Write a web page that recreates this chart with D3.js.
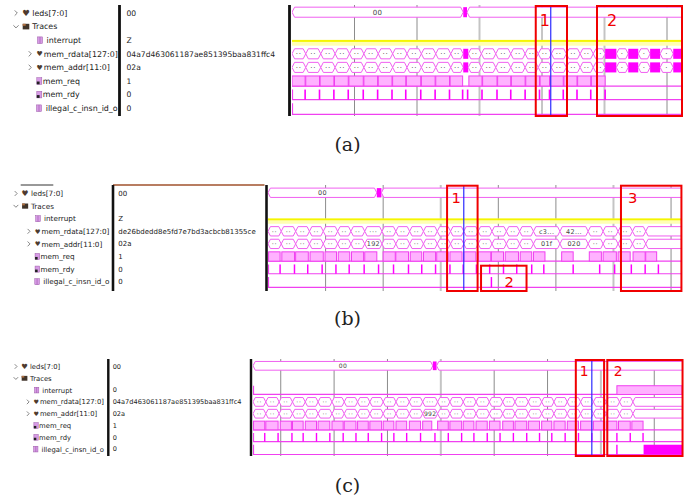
<!DOCTYPE html>
<html>
<head>
<meta charset="utf-8">
<script src="https://cdn.jsdelivr.net/npm/d3@7"></script>
<style>
  body { margin: 0; background: #fff; }
  svg { display: block; }
</style>
</head>
<body>
<div id="chart"></div>
<script>
// Signal list (same in all three captures)
const rowNames = ["leds[7:0]", "Traces", "interrupt", "mem_rdata[127:0]", "mem_addr[11:0]", "mem_req", "mem_rdy", "illegal_c_insn_id_o"];
const rowKinds = ["bus", "group", "wire", "bus", "bus", "reg", "reg", "wire"];

// Value column per capture
const aValues = ["00", "", "Z", "04a7d463061187ae851395baa831ffc4", "02a", "1", "0", "0"];
const bValues = ["00", "", "Z", "de26bdedd8e5fd7e7bd3acbcb81355ce", "02a", "1", "0", "0"];
const cValues = ["00", "", "0", "04a7d463061187ae851395baa831ffc4", "02a", "1", "0", "0"];

// ---- capture (a) ----
const aDomain = [0, 624];
const aGrid = [100, 200, 300, 400, 500, 600];
const aGridLight = [300, 500];
const aLedsEdges = [0, 274, 280, 624];
const aLedsLabels = ["00", "*", ""];
const aBusEdges = [0, 22, 46, 69, 92, 115, 138, 161, 184, 207, 230, 254, 274, 282, 303, 326, 350, 373, 394, 415, 439, 461, 482, 501, 519, 538, 554, 573, 589, 610, 624];
const aRdataLabels = ["··", "··", "··", "··", "··", "··", "··", "··", "··", "··", "··", "··", "*",
  "··", "··", "··", "··", "··", "··", "··", "··", "··", "··", "*", "·", "*", "·", "*", "·", "*"];
const aAddrLabels = aRdataLabels;
const aReqHigh = [[0, 21], [22, 44], [45, 67], [68, 90], [91, 114], [115, 137], [138, 160], [161, 182], [183, 206], [207, 229], [230, 252], [253, 273],
  [283, 304], [305, 328], [329, 350], [351, 373], [374, 396], [397, 412], [413, 434], [435, 456], [457, 478], [479, 501]];
const aRdyPulses = [21, 44, 67, 90, 114, 137, 160, 182, 206, 229, 252, 273, 281, 304, 328, 350, 373, 396, 412, 434, 456, 478, 501];
const aCursor = 414;
const aBoxStart = [390, 488];
const aBoxEnd = [440, 624];
const aBoxLabels = ["1", "2"];

// ---- capture (b) ----
const bDomain = [0, 719];
const bGrid = [100, 200, 300, 400, 500, 600, 700];
const bGridLight = [300, 600];
const bLedsEdges = [0, 189, 197, 719];
const bLedsLabels = ["00", "*", ""];
const bBusEdges = [0, 23, 48, 72, 96, 121, 144, 168, 198, 222, 246, 270, 294, 317, 340, 365, 389, 414, 437, 461, 507, 556, 582, 608, 633, 656, 719];
const bRdataLabels = ["··", "··", "··", "··", "··", "··", "··", "···", "··", "··", "··", "··", "··", "··", "··", "··", "··", "··", "··",
  "c3...", "42...", "··", "··", "··", "··", ""];
const bAddrLabels = ["··", "··", "··", "··", "··", "··", "··", "192", "··", "··", "··", "··", "··", "··", "··", "··", "··", "··", "··",
  "01f", "020", "··", "··", "··", "··", ""];
const bReqHigh = [[1, 21], [24, 46], [48, 70], [73, 96], [99, 119], [122, 142], [145, 166], [168, 189], [200, 221], [222, 244], [247, 267], [270, 291],
  [293, 313], [316, 337], [340, 361], [365, 387], [388, 409], [412, 435], [438, 458], [461, 481], [510, 530], [558, 579], [582, 605], [608, 629], [634, 655], [656, 675]];
const bRdyPulses = [21, 46, 69, 94, 118, 141, 167, 192, 218, 244, 267, 291, 316, 339, 362, 385, 409, 432, 458, 479, 530, 576, 602, 631, 655, 678];
const bIllegalPulses = [388];
const bCursor = 340;
const bBoxStart = [311, 370, 613];
const bBoxEnd = [364, 449, 718];
const bBoxLabels = ["1", "2", "3"];

// ---- capture (c) ----
const cDomain = [48, 852];
const cGrid = [100, 200, 300, 400, 500, 600, 700, 800];
const cGridLight = [400, 700];
const cLedsEdges = [48, 385, 392, 852];
const cLedsLabels = ["00", "*", ""];
const cBusEdges = [48, 72, 97, 122, 146, 170, 196, 219, 244, 267, 292, 316, 341, 366, 394, 417, 442, 466, 491, 516, 539, 564, 589, 612, 637, 662, 686, 710, 735, 760, 852];
const cRdataLabels = ["··", "··", "··", "··", "··", "··", "··", "··", "··", "··", "··", "··", "··", "···",
  "··", "··", "··", "··", "··", "··", "··", "··", "··", "··", "··", "··", "··", "··", "··", ""];
const cAddrLabels = ["··", "··", "··", "··", "··", "··", "··", "··", "··", "··", "··", "··", "··", "992",
  "··", "··", "··", "··", "··", "··", "··", "··", "··", "··", "··", "··", "··", "··", "··", ""];
const cReqHigh = [[49, 70], [72, 95], [99, 120], [122, 142], [146, 167], [170, 192], [196, 217], [219, 241], [244, 264], [267, 289], [292, 312], [316, 336],
  [341, 362], [366, 383], [394, 414], [417, 439], [442, 462], [466, 487], [491, 511], [516, 536], [539, 561], [564, 585], [589, 608], [612, 633],
  [637, 658], [662, 683], [686, 706], [710, 730], [733, 755], [758, 779]];
const cRdyPulses = [70, 95, 121, 142, 167, 192, 217, 241, 264, 289, 312, 336, 362, 389, 414, 439, 462, 487, 511, 536, 561, 585, 608, 633, 658, 683, 706, 730, 755, 779];
const cInterruptHigh = [[730, 852]];
const cIllegalPulses = [730];
const cIllegalDense = [[780, 852]];
const cCursor = 683;
const cBoxStart = [653, 712];
const cBoxEnd = [706, 853];
const cBoxLabels = ["1", "2"];

// colours
const MAG = "#ff00ff", BUS = "#f060f0", LINE = "#f040f0", PINK = "#ffb2ff";

// name column layout, in (a) pixels
const rowChevron = [">", "v", "", ">", ">", "", "", ""];
const rowChevronX = [16, 16, 0, 30, 30, 0, 0, 0];
const rowIconX = [26, 26, 40, 39.6, 39.6, 39.3, 39.3, 39];
const rowTextX = [32.3, 32.3, 46.5, 43.8, 43.8, 42.8, 42.8, 45.7];

const panels = [
  { s: 1, rowY: 13, pitch: 13.6, sep1: 119.5, valX: 126.5, sep2: 289.5, x0: 292, x1: 682, top: 5, bottom: 116,
    caption: "(a)", capY: 151, values: aValues, domain: aDomain, grid: aGrid, gridLight: aGridLight,
    leds: [aLedsEdges, aLedsLabels], rdata: [aBusEdges, aRdataLabels], addr: [aBusEdges, aAddrLabels],
    interrupt: { z: true }, req: { high: aReqHigh }, rdy: { pulses: aRdyPulses, tick: true }, illegal: { tick: true },
    cursor: aCursor, boxStart: aBoxStart, boxEnd: aBoxEnd, boxLabels: aBoxLabels,
    boxTop: [6, 6], labelDx: [4, 10], labelY: [25.7, 25.7] },
  { s: 0.92, rowY: 193.5, pitch: 12.6, sep1: 113, valX: 118.3, sep2: 266.5, x0: 268, x1: 682, top: 185, bottom: 291,
    caption: "(b)", capY: 325, values: bValues, domain: bDomain, grid: bGrid, gridLight: bGridLight,
    leds: [bLedsEdges, bLedsLabels], rdata: [bBusEdges, bRdataLabels], addr: [bBusEdges, bAddrLabels],
    interrupt: { z: true }, req: { high: bReqHigh }, rdy: { pulses: bRdyPulses, tick: true }, illegal: { pulses: bIllegalPulses, tick: true },
    cursor: bCursor, boxStart: bBoxStart, boxEnd: bBoxEnd, boxLabels: bBoxLabels,
    boxTop: [185.7, 265.7, 185.7], labelDx: [4.5, 23.5, 7], labelY: [203, 286.5, 203], header: true },
  { s: 0.866, rowY: 366.5, pitch: 11.8, sep1: 108.3, valX: 112.7, sep2: 251, x0: 253, x1: 682, top: 359, bottom: 456,
    caption: "(c)", capY: 491.5, values: cValues, domain: cDomain, grid: cGrid, gridLight: cGridLight,
    leds: [cLedsEdges, cLedsLabels], rdata: [cBusEdges, cRdataLabels], addr: [cBusEdges, cAddrLabels],
    interrupt: { high: cInterruptHigh, tick: true }, req: { high: cReqHigh }, rdy: { pulses: cRdyPulses, tick: true },
    illegal: { pulses: cIllegalPulses, dense: cIllegalDense, tick: true },
    cursor: cCursor, boxStart: cBoxStart, boxEnd: cBoxEnd, boxLabels: cBoxLabels,
    boxTop: [360, 360], labelDx: [4, 6.5], labelY: [375.5, 375.5] }
];

const svg = d3.select("#chart").append("svg")
  .attr("width", 691).attr("height", 499)
  .style("font-family", "'DejaVu Sans', sans-serif");
const defs = svg.append("defs");

function drawIcon(g, kind, cx, cy, s, big) {
  if (kind === "bus") {
    g.append("text").attr("x", cx).attr("y", cy).attr("dy", "0.36em")
      .attr("text-anchor", "middle").style("font-size", ((big ? 8.5 : 7) * s) + "px")
      .attr("fill", "#4e3b2e").text("♥");
  } else if (kind === "group") {
    g.append("rect").attr("x", cx - 3.3 * s).attr("y", cy - 2.8 * s)
      .attr("width", 6.6 * s).attr("height", 5.6 * s).attr("fill", "#40342a");
    g.append("rect").attr("x", cx - 3.3 * s).attr("y", cy - 2.8 * s)
      .attr("width", 3 * s).attr("height", 2 * s).attr("fill", "#b07040");
  } else {
    g.append("rect").attr("x", cx - 2.5 * s).attr("y", cy - 3.3 * s)
      .attr("width", 5 * s).attr("height", 6.6 * s)
      .attr("fill", "#d79be6").attr("stroke", "#9c5aa8").attr("stroke-width", 0.5);
    if (kind === "wire") {
      g.append("line").attr("x1", cx).attr("x2", cx)
        .attr("y1", cy - 3.3 * s).attr("y2", cy + 3.3 * s)
        .attr("stroke", "#9c5aa8").attr("stroke-width", 0.6);
    } else {
      g.append("rect").attr("x", cx - 2.5 * s).attr("y", cy + 0.5 * s)
        .attr("width", 2.8 * s).attr("height", 2.8 * s).attr("fill", "#222");
    }
  }
}

function drawBus(g, x, yT, yB, edges, labels, s) {
  const yM = (yT + yB) / 2;
  const end = x.domain()[1];
  labels.forEach((lab, i) => {
    const t0 = edges[i], t1 = edges[i + 1];
    const x0 = x(t0);
    const x1 = t1 >= end ? x(t1) + 10 : x(t1);
    if (lab === "*") {
      g.append("rect").attr("x", x0).attr("y", yT)
        .attr("width", Math.max(1, x(t1) - x0)).attr("height", yB - yT).attr("fill", MAG);
      return;
    }
    const k = Math.min(2.6 * s, (x1 - x0) / 2);
    g.append("path")
      .attr("d", `M${x0},${yM}L${x0 + k},${yT}L${x1 - k},${yT}L${x1},${yM}L${x1 - k},${yB}L${x0 + k},${yB}Z`)
      .attr("fill", "#fff").attr("stroke", BUS).attr("stroke-width", 1);
    if (lab) {
      g.append("text").attr("x", (x0 + x1) / 2).attr("y", yM).attr("dy", "0.36em")
        .attr("text-anchor", "middle").style("font-size", (7 * s) + "px")
        .style("letter-spacing", lab.startsWith("·") ? (0.8 * s) + "px" : "0.3px")
        .attr("fill", "#444").text(lab);
    }
  });
}

function drawBit(g, x, yT, yB, sig, s, yC) {
  const [t0, t1] = x.domain();
  if (sig.z) {
    g.append("rect").attr("x", x(t0)).attr("y", yC)
      .attr("width", x(t1) - x(t0)).attr("height", 5.5 * s).attr("fill", "#ffffb4");
    g.append("rect").attr("x", x(t0)).attr("y", yC - 0.3 * s)
      .attr("width", x(t1) - x(t0)).attr("height", 2 * s).attr("fill", "#f5f500");
    return;
  }
  g.append("line").attr("x1", x(t0)).attr("x2", x(t1) + 5)
    .attr("y1", yB).attr("y2", yB).attr("stroke", LINE).attr("stroke-width", 1.2);
  if (sig.tick) {
    g.append("line").attr("x1", x(t0) + 0.5).attr("x2", x(t0) + 0.5)
      .attr("y1", yT).attr("y2", yB).attr("stroke", LINE).attr("stroke-width", 1.2);
  }
  g.selectAll(null).data(sig.high || []).join("rect")
    .attr("x", d => x(d[0])).attr("y", yT)
    .attr("width", d => Math.min(x(d[1]), x(t1) + 5) - x(d[0])).attr("height", yB - yT)
    .attr("fill", PINK).attr("stroke", LINE).attr("stroke-width", 1);
  g.selectAll(null).data(sig.pulses || []).join("rect")
    .attr("x", d => x(d) - 0.8 * s).attr("y", yT)
    .attr("width", 1.6 * s).attr("height", yB - yT).attr("fill", MAG);
  g.selectAll(null).data(sig.dense || []).join("rect")
    .attr("x", d => x(d[0])).attr("y", yT)
    .attr("width", d => x(d[1]) + 5 - x(d[0])).attr("height", yB - yT).attr("fill", MAG);
}

panels.forEach((p, pi) => {
  const g = svg.append("g");
  const s = p.s;
  const rowC = i => p.rowY + i * p.pitch;
  const hh = 0.37 * p.pitch;
  const nx = v => 15 + (v - 15) * s;
  const x = d3.scaleLinear().domain(p.domain).range([p.x0, p.x1]);

  // name and value columns
  rowNames.forEach((name, i) => {
    const c = rowC(i);
    if (rowChevron[i] === ">") {
      const cx = nx(rowChevronX[i]);
      g.append("path").attr("d", `M${cx - 1.3 * s},${c - 2.6 * s}L${cx + 1.3 * s},${c}L${cx - 1.3 * s},${c + 2.6 * s}`)
        .attr("fill", "none").attr("stroke", "#777").attr("stroke-width", 0.9);
    } else if (rowChevron[i] === "v") {
      const cx = nx(rowChevronX[i]);
      g.append("path").attr("d", `M${cx - 2.6 * s},${c - 1.3 * s}L${cx},${c + 1.3 * s}L${cx + 2.6 * s},${c - 1.3 * s}`)
        .attr("fill", "none").attr("stroke", "#777").attr("stroke-width", 0.9);
    }
    drawIcon(g, rowKinds[i], nx(rowIconX[i]), c, s, i === 0);
    g.append("text").attr("x", nx(rowTextX[i])).attr("y", c).attr("dy", "0.36em")
      .style("font-size", (7.9 * s) + "px").attr("fill", "#222").text(name);
    if (p.values[i]) {
      g.append("text").attr("x", p.valX).attr("y", c).attr("dy", "0.36em")
        .style("font-size", (7.6 * s) + "px").attr("fill", "#222").text(p.values[i]);
    }
  });

  if (p.header) {
    g.append("line").attr("x1", 20.7).attr("x2", 53.3).attr("y1", p.top).attr("y2", p.top)
      .attr("stroke", "#333").attr("stroke-width", 1);
    g.append("line").attr("x1", p.sep1).attr("x2", p.sep2 - 2).attr("y1", p.top).attr("y2", p.top)
      .attr("stroke", "#a0522d").attr("stroke-width", 1.3);
  }

  // separators
  [p.sep1, p.sep2].forEach(sx => {
    g.append("rect").attr("x", sx - 1.4 * s).attr("y", p.top)
      .attr("width", 2.8 * s).attr("height", p.bottom - p.top).attr("fill", "#111");
  });

  // wave area
  const clipId = "clip" + pi;
  defs.append("clipPath").attr("id", clipId).append("rect")
    .attr("x", p.x0).attr("y", p.top - 2).attr("width", p.x1 - p.x0).attr("height", p.bottom - p.top + 4);
  const w = g.append("g").attr("clip-path", `url(#${clipId})`);

  w.selectAll(null).data(p.grid).join("line")
    .attr("x1", d => x(d)).attr("x2", d => x(d))
    .attr("y1", p.top).attr("y2", p.bottom)
    .attr("stroke", d => p.gridLight.includes(d) ? "#c4c4c4" : "#8c8c8c")
    .attr("stroke-width", d => p.gridLight.includes(d) ? 2 : 1);

  const yT = i => rowC(i) - hh, yB = i => rowC(i) + hh;
  drawBus(w, x, yT(0) - 0.8 * s, yB(0) - 0.8 * s, p.leds[0], p.leds[1], s);
  drawBit(w, x, yT(2), yB(2), p.interrupt, s, rowC(2));
  drawBus(w, x, yT(3), yB(3), p.rdata[0], p.rdata[1], s);
  drawBus(w, x, yT(4), yB(4), p.addr[0], p.addr[1], s);
  drawBit(w, x, yT(5), yB(5), p.req, s, rowC(5));
  drawBit(w, x, yT(6), yB(6), p.rdy, s, rowC(6));
  drawBit(w, x, yT(7), yB(7) + 1.2 * s, p.illegal, s, rowC(7));

  // cursor
  w.append("line").attr("x1", x(p.cursor)).attr("x2", x(p.cursor))
    .attr("y1", p.top + 1).attr("y2", p.bottom)
    .attr("stroke", "#2b2bff").attr("stroke-width", 1.2);

  // highlighted regions
  p.boxStart.forEach((t0, k) => {
    const bx0 = x(t0), bx1 = x(p.boxEnd[k]);
    g.append("rect").attr("x", bx0).attr("y", p.boxTop[k])
      .attr("width", bx1 - bx0).attr("height", p.bottom - p.boxTop[k])
      .attr("fill", "none").attr("stroke", "#f00000").attr("stroke-width", 2);
    g.append("text").attr("x", bx0 + p.labelDx[k]).attr("y", p.labelY[k])
      .style("font-size", (16 * s) + "px").attr("fill", "#f00000").text(p.boxLabels[k]);
  });

  // caption
  svg.append("text").attr("x", 347.5).attr("y", p.capY).attr("text-anchor", "middle")
    .style("font-family", "'DejaVu Serif', serif").style("font-size", "19px")
    .attr("fill", "#222").text(p.caption);
});
</script>
</body>
</html>
